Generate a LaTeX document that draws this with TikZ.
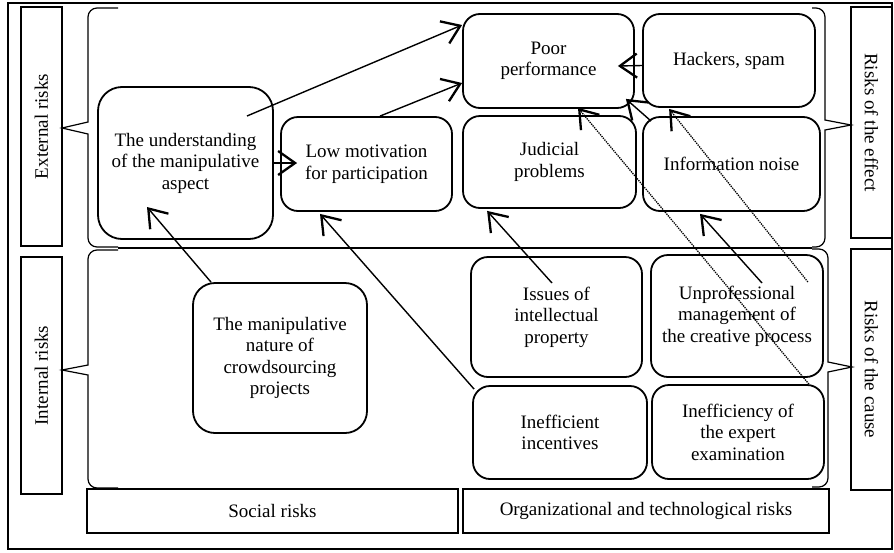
\documentclass[tikz,border=0pt]{standalone}
\usepackage{fontspec}
\setmainfont{Liberation Serif}
\usetikzlibrary{arrows.meta}

\begin{document}
\begin{tikzpicture}[x = 1pt, y = -1pt, font=\fontsize{19}{21.5}\selectfont,
    risk/.style={draw, line width=1.8pt, rounded corners=17pt, align=center, inner sep=0pt},
    side/.style={draw, line width=1.6pt, inner sep=0pt},
    brace/.style={line width=1.2pt},
    arr/.style={line width=1.4pt, -{Straight Barb[length=17pt, width=24pt, line width=2.3pt]}},
    hint/.style={densely dotted, line width=1.3pt, -{Straight Barb[length=17pt, width=24pt, line width=2.3pt]}}]
        \useasboundingbox (0,0) rectangle (894,552);
        \draw [line width=1.6pt] (8,3) rectangle (892,549);
        \node (extl) [side, rotate=90, minimum width=239pt, minimum height=41pt] at (41.5,126.5) {External risks};
        \node (intl) [side, rotate=90, minimum width=237pt, minimum height=41pt] at (41.5,375.5) {Internal risks};
        \node (effect) [side, rotate=-90, minimum width=231pt, minimum height=41pt] at (871.5,122.5) {Risks of the effect};
        \node (cause) [side, rotate=-90, minimum width=241pt, minimum height=41pt] at (871.5,369.5) {Risks of the cause};
        \node (social) [side, minimum width=371pt, minimum height=44pt] at (272.5,511) {Social risks};
        \node (orgtech) [side, minimum width=366pt, minimum height=44pt] at (646,511) {Organizational and technological risks};
        \draw [brace] (118,8) [rounded corners=9pt] -- (88,8) -- (88,60) [sharp corners] -- (88,122) -- (62,128) -- (88,134) -- (88,200) [rounded corners=9pt] -- (88,247) -- (118,247);
        \draw [brace] (118,250) [rounded corners=9pt] -- (88,250) -- (88,300) [sharp corners] -- (88,365) -- (62,370) -- (88,375) -- (88,440) [rounded corners=9pt] -- (88,488) -- (118,488);
        \draw [brace] (812,8) [rounded corners=9pt] -- (825,8) -- (825,60) [sharp corners] -- (825,120) -- (851,125) -- (825,130) -- (825,200) [rounded corners=9pt] -- (825,247) -- (812,247);
        \draw [brace] (812,249) [rounded corners=9pt] -- (828,249) -- (828,300) [sharp corners] -- (828,362) -- (852,367) -- (828,372) -- (828,440) [rounded corners=9pt] -- (828,487) -- (812,487);
        \draw [brace] (118,248) -- (812,248);
        \node (under) [risk, rounded corners=24pt, minimum width=175pt, minimum height=152pt] at (185.5,163) {The understanding\\of the manipulative\\aspect};
        \node (lowmot) [risk, minimum width=171pt, minimum height=94pt] at (366.5,164) {Low motivation\\for participation};
        \node (poor) [risk, minimum width=171pt, minimum height=94pt] at (548.5,61) {Poor\\performance};
        \node (hack) [risk, minimum width=172pt, minimum height=93pt] at (729,60.5) {Hackers, spam};
        \node (judic) [risk, minimum width=173pt, minimum height=92pt] at (549.5,162) {Judicial\\problems};
        \node (noise) [risk, minimum width=177pt, minimum height=94pt] at (731.5,164) {Information noise};
        \node (manip) [risk, rounded corners=22pt, minimum width=174pt, minimum height=150pt] at (280,358) {The manipulative\\nature of\\crowdsourcing\\projects};
        \node (issues) [risk, minimum width=171pt, minimum height=120pt] at (556.5,317) {Issues of\\intellectual\\property};
        \node (unprof) [risk, minimum width=172pt, minimum height=122pt] at (737,316) {Unprofessional\\management of\\the creative process};
        \node (incent) [risk, minimum width=174pt, minimum height=93pt] at (560,432.5) {Inefficient\\incentives};
        \node (expert) [risk, minimum width=172pt, minimum height=94pt] at (738,432) {Inefficiency of\\the expert\\examination};
        \draw [arr] ([shift={(61.5,-47)}]under.center) -- ([shift={(0,-36)}]poor.west);
        \draw [arr] ([shift={(13.5,0)}]lowmot.north) -- ([shift={(0,22)}]poor.west);
        \draw [arr] (under.east) -- ([shift={(17,-1)}]lowmot.west);
        \draw [arr] ([shift={(0,5)}]hack.west) -- ([shift={(-17,5)}]poor.east);
        \draw [arr] ([shift={(9,5)}]noise.north west) -- ([shift={(-9,-10)}]poor.south east);
        \draw [arr] ([shift={(-69,0)}]manip.north) -- ([shift={(-38.5,44)}]under.center);
        \draw [arr] ([shift={(2,4)}]incent.north west) -- ([shift={(-46.5,2)}]lowmot.south);
        \draw [arr] ([shift={(-4.5,-34)}]issues.center) -- ([shift={(25,2)}]judic.south west);
        \draw [arr] ([shift={(25,-33)}]unprof.center) -- ([shift={(-31.5,2)}]noise.south);
        \draw [hint] ([shift={(-16,0)}]expert.north east) -- ([shift={(29.5,-1)}]poor.south);
        \draw [hint] ([shift={(-16,-34)}]unprof.east) -- ([shift={(27,1)}]hack.south west);
    \end{tikzpicture}
\end{document}
